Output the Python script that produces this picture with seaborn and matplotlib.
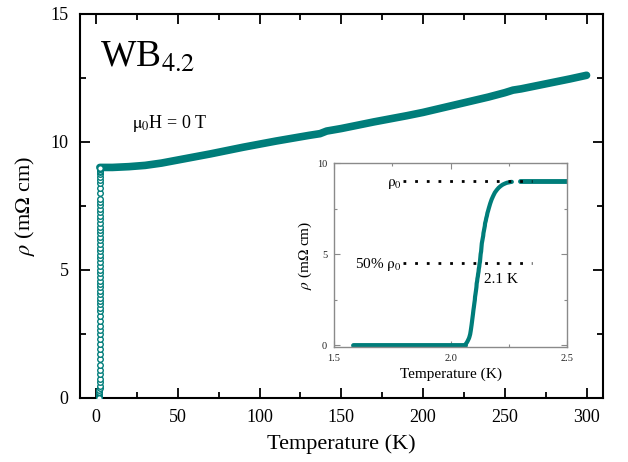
import numpy as np
import pandas as pd
import matplotlib
matplotlib.use("Agg")
import matplotlib.pyplot as plt
from matplotlib.ticker import MultipleLocator
import seaborn as sns

# Resistivity of WB4.2 in zero field
# superconducting state (rho = 0) below the transition
T_low = [1.58, 1.62, 1.66, 1.70, 1.75, 1.80, 1.85, 1.90, 1.95, 2.00, 2.04, 2.062]
rho_low = [0.0] * len(T_low)

# resistive transition
T_trans = [2.062, 2.066, 2.07, 2.073, 2.076, 2.079, 2.081, 2.084, 2.086, 2.088, 2.09,
           2.092, 2.094, 2.096, 2.098, 2.100, 2.102, 2.104, 2.105, 2.107, 2.109,
           2.111, 2.112, 2.114, 2.115, 2.117, 2.118, 2.120, 2.121, 2.123, 2.124,
           2.126, 2.127, 2.128, 2.129, 2.131, 2.132, 2.133, 2.134, 2.136, 2.138,
           2.140, 2.141, 2.143, 2.145, 2.147, 2.148, 2.151, 2.153, 2.156, 2.158,
           2.161, 2.164, 2.167, 2.17, 2.176, 2.183, 2.19, 2.198, 2.206, 2.215,
           2.224, 2.234, 2.242, 2.25, 2.257, 2.263]
rho_trans = [0.0, 0.08, 0.15, 0.22, 0.3, 0.38, 0.46, 0.6, 0.75, 0.92, 1.1,
             1.3, 1.5, 1.7, 1.92, 2.1, 2.3, 2.48, 2.65, 2.82, 3.0,
             3.2, 3.39, 3.52, 3.65, 3.78, 3.9, 4.04, 4.18, 4.32, 4.45,
             4.58, 4.72, 4.86, 5.0, 5.15, 5.3, 5.45, 5.59, 5.73, 5.87,
             6.01, 6.15, 6.28, 6.42, 6.55, 6.69, 6.83, 6.97, 7.11, 7.25,
             7.38, 7.52, 7.65, 7.78, 8.0, 8.2, 8.38, 8.52, 8.64, 8.74,
             8.82, 8.88, 8.92, 8.94, 8.96, 8.97]

# normal state up to room temperature
T_norm = [2.3, 2.4, 2.5, 3, 5, 10, 20, 30, 40, 50, 60, 70, 80, 90, 100, 110, 120,
          130, 137, 141, 150, 160, 170, 180, 190, 200, 210, 220, 230, 240, 250,
          255, 260, 270, 280, 290, 300]
rho_norm = [9.0, 9.0, 9.0, 9.0, 9.0, 9.0, 9.03, 9.08, 9.17, 9.29, 9.41, 9.53, 9.66,
            9.79, 9.91, 10.03, 10.14, 10.25, 10.32, 10.42, 10.52, 10.65, 10.78,
            10.90, 11.02, 11.15, 11.30, 11.45, 11.60, 11.75, 11.92, 12.02, 12.07,
            12.20, 12.33, 12.46, 12.60]

rho0 = 9.0
rho_half = 4.5
Tc_label = "2.1 K"

teal = "#007d7a"

sns.set_theme(style="ticks")
plt.rcParams["font.family"] = ["Liberation Serif", "DejaVu Serif"]
plt.rcParams["mathtext.fontset"] = "stix"
plt.rcParams["text.color"] = "black"
plt.rcParams["axes.labelcolor"] = "black"
plt.rcParams["xtick.color"] = "black"
plt.rcParams["ytick.color"] = "black"

df_low = pd.DataFrame({"T": T_low, "rho": rho_low})
df_tr = pd.DataFrame({"T": T_trans, "rho": rho_trans})
df_n = pd.DataFrame({"T": T_norm, "rho": rho_norm})

fig = plt.figure(figsize=(6.28, 4.62), dpi=100)
ax = fig.add_axes([0.127, 0.139, 0.833, 0.831])

# main panel
sns.lineplot(data=df_n, x="T", y="rho", ax=ax, color=teal, lw=5.5,
             solid_capstyle="round", sort=False)
sns.scatterplot(data=df_tr, x="T", y="rho", ax=ax, marker="o", s=16,
                facecolor="white", edgecolor=teal, linewidth=1.0, zorder=3)
sns.scatterplot(data=df_low, x="T", y="rho", ax=ax, marker="o", s=16,
                facecolor="white", edgecolor=teal, linewidth=1.0, zorder=3)

ax.set_xlim(-10, 310)
ax.set_ylim(0, 15)
ax.xaxis.set_major_locator(MultipleLocator(50))
ax.xaxis.set_minor_locator(MultipleLocator(25))
ax.yaxis.set_major_locator(MultipleLocator(5))
ax.yaxis.set_minor_locator(MultipleLocator(2.5))
ax.tick_params(which="both", direction="in", top=True, right=True,
               labelsize=13, colors="black", width=1.3, pad=8)
ax.tick_params(which="major", length=7)
ax.tick_params(which="minor", length=4)
for sp in ax.spines.values():
    sp.set_linewidth(1.5)
    sp.set_color("black")
ax.set_xlabel("Temperature (K)", fontsize=16, labelpad=6, color="black")
ax.set_ylabel(r"$\rho$ (m$\Omega$ cm)", fontsize=16, labelpad=10, color="black")

ax.text(2.4, 12.93, r"WB$_{4.2}$", fontsize=27, ha="left", va="baseline", color="black")
ax.text(22, 10.55, r"$\mathrm{\mu_0}$H = 0 T", fontsize=13, ha="left", va="baseline",
        color="black")

# inset: zoom on the transition
ins = fig.add_axes([0.532, 0.249, 0.371, 0.398])
sns.lineplot(data=df_low, x="T", y="rho", ax=ins, color=teal, lw=3.5)
sns.lineplot(data=df_tr, x="T", y="rho", ax=ins, color=teal, lw=3.0)
sns.lineplot(data=df_n[df_n["T"] <= 2.5], x="T", y="rho", ax=ins, color=teal, lw=3.5)
ins.plot([1.796, 2.35], [rho0, rho0], color="black", lw=2, ls=(0, (1, 3.2)))
ins.plot([1.796, 2.35], [rho_half, rho_half], color="black", lw=2, ls=(0, (1, 3.2)))
ins.text(1.79, rho0 - 0.25, r"$\mathrm{\rho_0}$", fontsize=11, ha="right", va="baseline")
ins.text(1.79, rho_half - 0.25, r"50% $\mathrm{\rho_0}$", fontsize=11, ha="right",
         va="baseline")
ins.text(2.143, 3.4, Tc_label, fontsize=11, ha="left", va="baseline")

ins.set_xlim(1.5, 2.5)
ins.set_ylim(-0.1, 10)
ins.xaxis.set_major_locator(MultipleLocator(0.5))
ins.xaxis.set_minor_locator(MultipleLocator(0.25))
ins.yaxis.set_major_locator(MultipleLocator(5))
ins.yaxis.set_minor_locator(MultipleLocator(2.5))
ins.tick_params(which="both", direction="in", top=True, right=True,
                labelsize=7.5, color="#8a8a8a", labelcolor="#222222", width=0.8, pad=5)
ins.tick_params(which="major", length=4)
ins.tick_params(which="minor", length=2.5)
for sp in ins.spines.values():
    sp.set_linewidth(1.0)
    sp.set_color("#8a8a8a")
ins.set_xlabel("Temperature (K)", fontsize=11, labelpad=3)
ins.set_ylabel(r"$\rho$ (m$\Omega$ cm)", fontsize=11, labelpad=2)

fig.savefig("out.png", dpi=100)
